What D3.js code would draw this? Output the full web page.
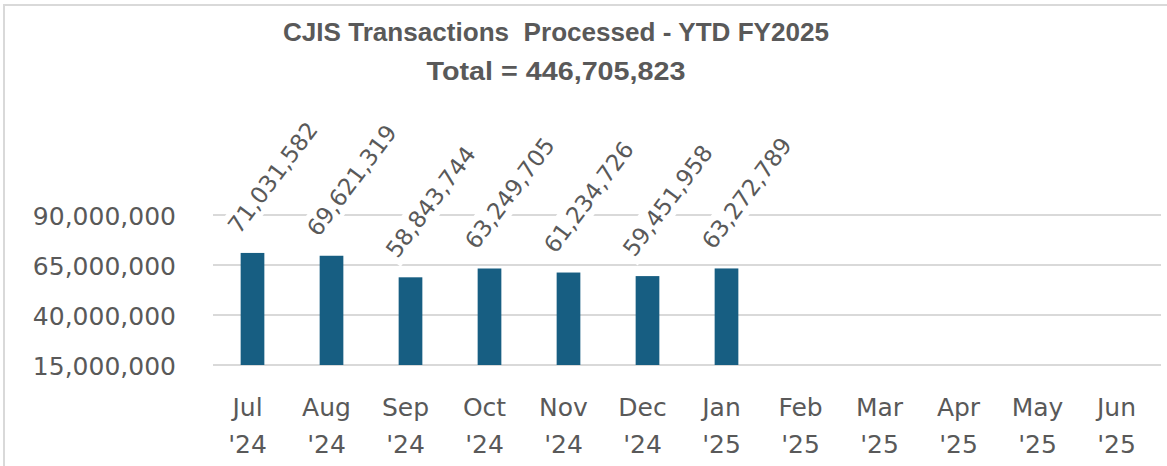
<!DOCTYPE html>
<html lang="en">
<head>
<meta charset="utf-8">
<title>CJIS Transactions</title>
<script src="https://d3js.org/d3.v7.min.js"></script>
<style>
  body { margin: 0; background: #fff; }
  text { fill: #595959; }
  .title { white-space: pre; }
</style>
</head>
<body>
<svg id="chart" width="1167" height="466"></svg>
<script>
// data
const months = ["Jul '24", "Aug '24", "Sep '24", "Oct '24", "Nov '24", "Dec '24",
                "Jan '25", "Feb '25", "Mar '25", "Apr '25", "May '25", "Jun '25"];
const values = [71031582, 69621319, 58843744, 63249705, 61234726, 59451958, 63272789,
                null, null, null, null, null];
const yTicks = [15000000, 40000000, 65000000, 90000000];
const titleLines = ["CJIS Transactions  Processed - YTD FY2025", "Total = 446,705,823"];

const barColor = "#175e82";
const gridColor = "#d9d9d9";

const svg = d3.select("#chart");

// outer border of chart area
svg.append("rect")
  .attr("x", 4).attr("y", 5)
  .attr("width", 1170).attr("height", 470)
  .attr("fill", "none")
  .attr("stroke", "#d9d9d9")
  .attr("stroke-width", 2);

const x = d3.scaleBand()
  .domain(months)
  .range([213, 1161])
  .paddingInner(0.7)
  .paddingOuter(0.35);

const y = d3.scaleLinear()
  .domain([15000000, 90000000])
  .range([365, 215]);

const fmt = d3.format(",");

// gridlines
svg.append("g")
  .selectAll("line")
  .data(yTicks)
  .join("line")
  .attr("x1", 213).attr("x2", 1161)
  .attr("y1", d => y(d)).attr("y2", d => y(d))
  .attr("stroke", gridColor)
  .attr("stroke-width", 2);

// y axis labels
const yAxis = svg.append("g")
  .attr("transform", "translate(176,0)")
  .call(d3.axisLeft(y).tickValues(yTicks).tickFormat(fmt).tickSize(0).tickPadding(0));
yAxis.select(".domain").remove();
yAxis.selectAll("text")
  .attr("font-family", "DejaVu Sans")
  .attr("font-size", 25)
  .attr("fill", "#595959")
  .attr("dy", "0.36em");

// bars
const data = months.map((m, i) => ({ m, v: values[i] })).filter(d => d.v != null);

svg.append("g")
  .selectAll("rect")
  .data(data)
  .join("rect")
  .attr("x", d => x(d.m))
  .attr("width", x.bandwidth())
  .attr("y", d => y(d.v))
  .attr("height", d => y(15000000) - y(d.v))
  .attr("fill", barColor);

// rotated data labels with white box knocking out gridlines
const lab = svg.append("g")
  .selectAll("g")
  .data(data)
  .join("g")
  .attr("transform", d => `translate(${x(d.m) + x.bandwidth() / 2 - 13},${y(d.v) - 18}) rotate(-53)`);

const labText = lab.append("text")
  .attr("font-family", "DejaVu Sans")
  .attr("font-size", 23)
  .attr("text-anchor", "start")
  .text(d => fmt(d.v));

labText.each(function () {
  const b = this.getBBox();
  d3.select(this.parentNode).insert("rect", "text")
    .attr("x", b.x - 4).attr("y", b.y - 2)
    .attr("width", b.width + 8).attr("height", b.height + 4)
    .attr("fill", "#fff");
});

// x axis labels (two lines)
const xl = svg.append("g")
  .selectAll("text")
  .data(months)
  .join("text")
  .attr("font-family", "DejaVu Sans")
  .attr("font-size", 25)
  .attr("text-anchor", "middle")
  .attr("transform", d => `translate(${x(d) + x.bandwidth() / 2 - 5},0)`);
xl.append("tspan").attr("x", 0).attr("y", 416).text(d => d.split(" ")[0]);
xl.append("tspan").attr("x", 0).attr("y", 453).text(d => d.split(" ")[1]);

// title
svg.append("text")
  .attr("class", "title")
  .attr("x", 556).attr("y", 41)
  .attr("text-anchor", "middle")
  .attr("font-family", "Liberation Sans")
  .attr("font-weight", "bold")
  .attr("font-size", 25)
  .attr("textLength", 546)
  .attr("lengthAdjust", "spacingAndGlyphs")
  .text(titleLines[0]);
svg.append("text")
  .attr("class", "title")
  .attr("x", 556).attr("y", 80)
  .attr("text-anchor", "middle")
  .attr("font-family", "Liberation Sans")
  .attr("font-weight", "bold")
  .attr("font-size", 25)
  .attr("textLength", 259)
  .attr("lengthAdjust", "spacingAndGlyphs")
  .text(titleLines[1]);
</script>
</body>
</html>
